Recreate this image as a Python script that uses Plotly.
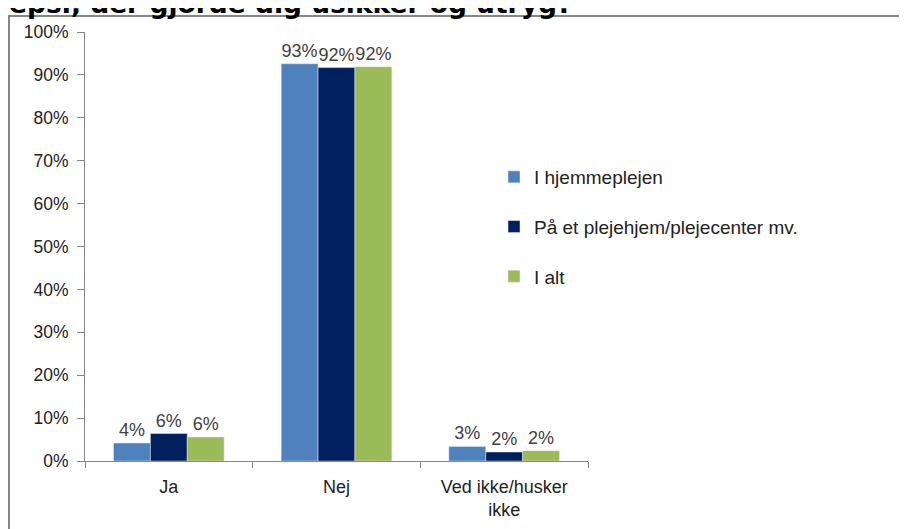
import plotly.graph_objects as go

categories = ["Ja", "Nej", "Ved ikke/husker<br>ikke"]
series_names = ["I hjemmeplejen", "På et plejehjem/plejecenter mv.", "I alt"]
hjemmepleje = [0.042, 0.926, 0.034]
plejehjem = [0.064, 0.917, 0.021]
i_alt = [0.056, 0.919, 0.024]
colors = ["#4F81BD", "#002060", "#9BBB59"]
y_ticks = [0, 0.1, 0.2, 0.3, 0.4, 0.5, 0.6, 0.7, 0.8, 0.9, 1.0]
title_text = "lepsi, der gjorde dig usikker og utryg?"

fig = go.Figure()
for i, (name, vals) in enumerate(zip(series_names, [hjemmepleje, plejehjem, i_alt])):
    fig.add_trace(go.Bar(
        x=categories, y=vals, name=name, marker_color=colors[i],
        texttemplate="%{y:.0%}", textposition="outside", cliponaxis=False,
        constraintext="none", textfont=dict(size=18, color="#404040"),
        legendgroup=name,
    ))

L, R, T, B = 77, 327, 24, 76
W, H = 907, 529
pw, ph = W - L - R, H - T - B
base = H - B  # pixel row of the x axis


def px_x(p):
    return (p - L) / pw


def px_y(p):
    return (base - p) / ph


fig.update_layout(
    width=W, height=H,
    margin=dict(l=L, r=R, t=T, b=B),
    paper_bgcolor="white", plot_bgcolor="white",
    barmode="group", bargap=0.34, bargroupgap=0,
    font=dict(family="Liberation Sans, Arial, sans-serif", size=17, color="#222222"),
    legend=dict(x=px_x(486), y=px_y(150), xanchor="left", yanchor="top",
                font=dict(size=19, color="#222222"), tracegroupgap=22,
                traceorder="grouped", bgcolor="rgba(0,0,0,0)"),
    xaxis=dict(showline=True, linecolor="#868686", linewidth=1, ticks="outside",
               tickson="boundaries", ticklen=6, tickcolor="#868686",
               ticklabelstandoff=9,
               tickfont=dict(size=18, color="#222222"), showgrid=False),
    yaxis=dict(range=[0, 1.0], tickvals=y_ticks, tickformat=".0%", showline=True,
               linecolor="#868686", linewidth=1, ticks="outside", ticklen=7,
               tickcolor="#868686", showgrid=False, zeroline=False,
               ticklabelstandoff=5,
               tickfont=dict(size=17.5, color="#222222")),
    showlegend=True,
)

fig.add_shape(type="rect", xref="paper", yref="paper",
              x0=px_x(1), x1=px_x(960), y0=px_y(600), y1=px_y(8),
              line=dict(color="#868686", width=2), fillcolor="rgba(0,0,0,0)", layer="below")

fig.add_annotation(text="<b>" + title_text + "</b>", xref="paper", yref="paper",
                   x=px_x(-10), y=px_y(13), xanchor="left", yanchor="bottom",
                   showarrow=False, font=dict(family="DejaVu Sans, Verdana, sans-serif",
                                              size=26.5, color="#000000"))

fig.write_html("out.html")
